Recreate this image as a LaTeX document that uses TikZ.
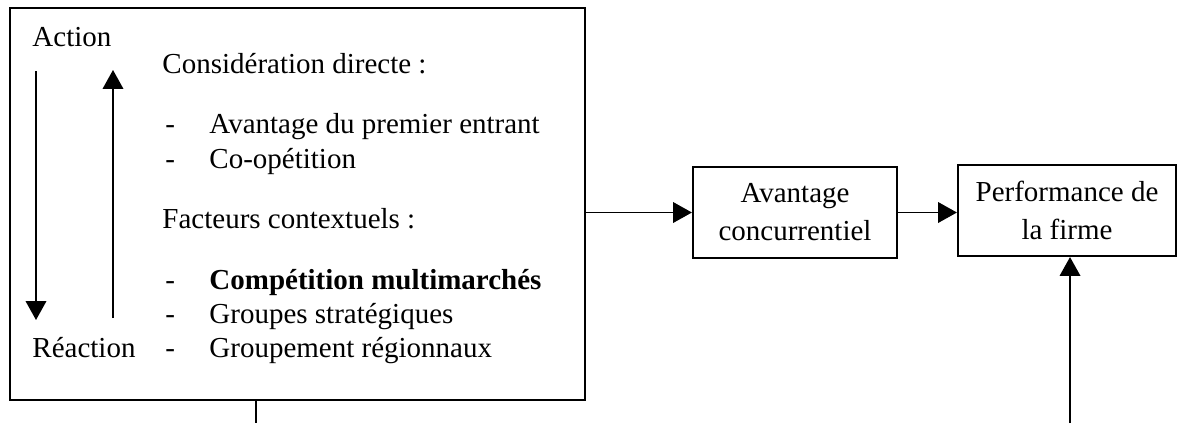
\documentclass[tikz,border=0pt]{standalone}
\usepackage{fontspec}
\setmainfont{Liberation Serif}
\usetikzlibrary{arrows.meta}

\tikzset{
	boite/.style={draw, line width=0.85pt, inner sep=0pt, align=center},
	fleche/.style={-{Triangle[length=7.8pt,width=8.5pt]}, line width=0.75pt},
	texte/.style={anchor=base west, inner sep=0pt},
}

\begin{document}
\begin{tikzpicture}[x=0.414pt, y=-0.414pt, every node/.style={font=\fontsize{12}{15.7}\selectfont}]
		%		\draw[lightgray] (0,0) grid (1179,423);
				\useasboundingbox (0,0) rectangle (1179,423);
				\node[boite, minimum width=238.1pt, minimum height=162.3pt] (jeu) at (297.5,204) {}; % cadre
				
				\node[texte] (action) at (32,46) {Action};
				\node[texte] (reaction) at (32,357) {Réaction};
				\coordinate (descente1) at (36,71);
				\coordinate (descente2) at (36,320);
				\draw[fleche, line width=0.6pt] (descente1)--(descente2); % action -> reaction
				\coordinate (montee1) at (113,318);
				\coordinate (montee2) at (113,70);
				\draw[fleche, line width=0.6pt] (montee1)--(montee2); % reaction -> action
				
				\node[texte] (directe) at (162,73) {Considération directe :};
				\node[texte] (tiret1) at (165,133) {-};
				\node[texte] (premier) at (209,133) {Avantage du premier entrant};
				\node[texte] (tiret2) at (165,168) {-};
				\node[texte] (coop) at (209,168) {Co-opétition};
				\node[texte] (contexte) at (162,228) {Facteurs contextuels :};
				\node[texte] (tiret3) at (165,289) {-};
				\node[texte] (multi) at (209,289) {\textbf{Compétition multimarchés}};
				\node[texte] (tiret4) at (165,323) {-};
				\node[texte] (groupes) at (209,323) {Groupes stratégiques};
				\node[texte] (tiret5) at (165,357) {-};
				\node[texte] (regions) at (209,357) {Groupement régionnaux};
				
				\node[boite, minimum width=84.5pt, minimum height=37.7pt] (avantage) at (795,212.5)
				{Avantage\\concurrentiel};
				\node[boite, minimum width=90.3pt, minimum height=37.7pt] (perf) at (1067,210.5)
				{Performance de\\la firme};
				
				\draw[fleche] (jeu.east |- avantage.west)--(avantage.west); % jeu -> avantage
				\draw[fleche] (avantage.east)--(perf.west |- avantage.east); % avantage -> perf
				
				\coordinate (bas1) at (256,423);
				\draw[line width=0.8pt] (bas1 |- jeu.south)--(bas1);
				\coordinate (bas2) at (1070,423);
				\draw[fleche] (bas2)--(bas2 |- perf.south);
				
\end{tikzpicture}
\end{document}
